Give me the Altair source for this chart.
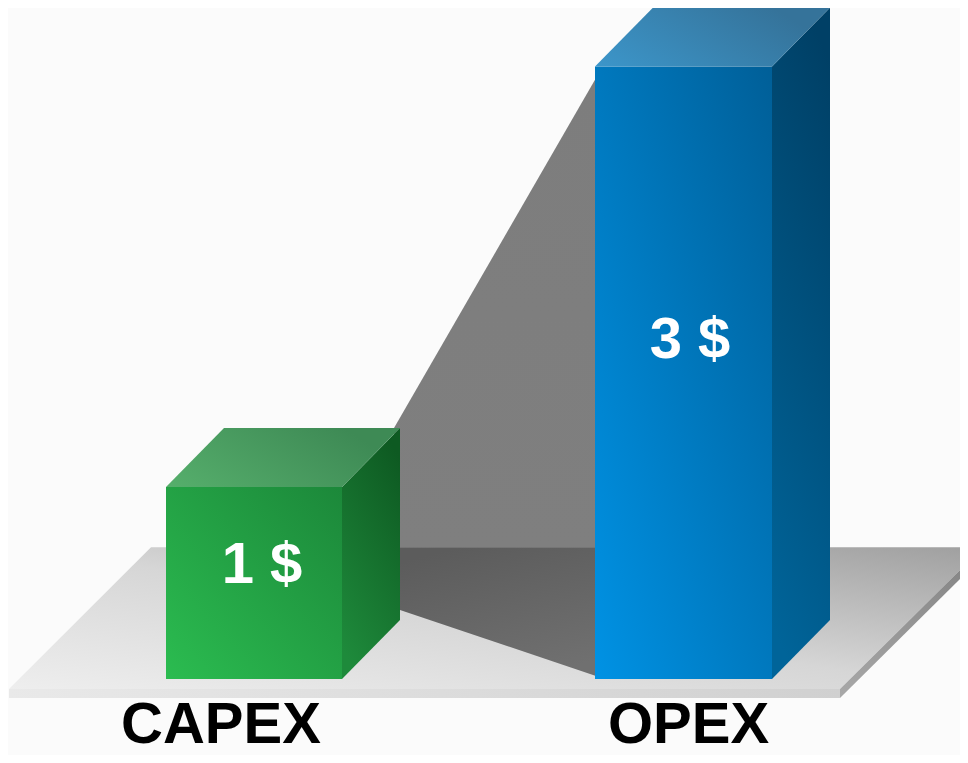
import altair as alt
import pandas as pd

categories = ["CAPEX", "OPEX"]
value_labels = ["1 $", "3 $"]
bar_heights = [1.0, 3.19]
bar_left = [166, 595]
bar_width = [176, 177]
depth_x = 58
depth_y = 0.307

floor_x = [9, 151, 840, 968]
floor_top = [-0.052, 0.686, 0.686, 0.686]
floor_bot = [-0.052, -0.052, -0.052, 0.609]
band_x = [9, 840]
band_top = [-0.052, -0.052]
band_bot = [-0.099, -0.099]
edge_x = [840, 968]
edge_top = [-0.052, 0.609]
edge_bot = [-0.099, 0.5625]
wall_shadow_x = [394, 596]
wall_shadow_top = [1.307, 3.13]
wall_shadow_bot = [0.686, 0.686]
floor_shadow_x = [400, 596]
floor_shadow_top = [0.686, 0.686]
floor_shadow_bot = [0.359, 0.016]

label_x = [221, 688.5]
label_y = [-0.333, -0.333]
value_x = [262, 690]
value_y = [0.5, 1.672]

X_SCALE = alt.Scale(domain=[8, 960], nice=False, zero=False)
Y_SCALE = alt.Scale(domain=[-0.3958, 3.495], nice=False, zero=False)


def grad(colors, x1=0, y1=1, x2=1, y2=0):
    n = len(colors) - 1
    return alt.Gradient(
        gradient="linear", x1=x1, y1=y1, x2=x2, y2=y2,
        stops=[alt.GradientStop(color=c, offset=i / n) for i, c in enumerate(colors)],
    )


def face(xs, top, bot, fill):
    df = pd.DataFrame({"x": xs, "top": top, "bot": bot})
    return alt.Chart(df).mark_area(color=fill, interpolate="linear", clip=True).encode(
        x=alt.X("x:Q", scale=X_SCALE, axis=None),
        y=alt.Y("top:Q", scale=Y_SCALE, axis=None),
        y2="bot:Q",
    )


def bar(i, front, side, top):
    l, w, h = bar_left[i], bar_width[i], bar_heights[i]
    r = l + w
    return [
        face([l, r], [h, h], [0, 0], front),
        face([r, r + depth_x], [h, h + depth_y], [0, depth_y], side),
        face([l, l + depth_x, r, r + depth_x],
             [h, h + depth_y, h + depth_y, h + depth_y],
             [h, h, h, h + depth_y], top),
    ]


layers = [
    face(floor_x, floor_top, floor_bot, grad(["#eeeeee", "#d6d6d6", "#a0a0a0"])),
    face(band_x, band_top, band_bot, grad(["#e9e9e9", "#d0d0d0"], 0, 0, 1, 0)),
    face(edge_x, edge_top, edge_bot, grad(["#a8a8a8", "#858585"])),
    face(wall_shadow_x, wall_shadow_top, wall_shadow_bot, grad(["#7f7f7f", "#7d7d7d"], 0, 1, 0, 0)),
    face(floor_shadow_x, floor_shadow_top, floor_shadow_bot, grad(["#5c5c5c", "#707070"], 0.3, 0, 0.7, 1)),
]
layers += bar(0, grad(["#2bbc50", "#1c883a"]), grad(["#1e8a3b", "#0e5a22"], 0.3, 1, 0.7, 0),
              grad(["#56af6c", "#3e8a55"], 0, 1, 1, 0.6))
layers += bar(1, grad(["#0092e4", "#005f98"]), grad(["#006499", "#004066"], 0.4, 1, 0.6, 0),
              grad(["#3c96ca", "#35739a"], 0, 1, 1, 0.6))

labels = pd.DataFrame({"t": categories, "x": label_x, "y": label_y})
values = pd.DataFrame({"t": value_labels, "x": value_x, "y": value_y})
for df, color in ((labels, "#000000"), (values, "#ffffff")):
    layers.append(
        alt.Chart(df).mark_text(
            font="Liberation Sans", fontWeight="bold", fontSize=58,
            align="center", baseline="alphabetic", color=color,
        ).encode(
            x=alt.X("x:Q", scale=X_SCALE, axis=None),
            y=alt.Y("y:Q", scale=Y_SCALE, axis=None),
            text="t:N",
        )
    )

chart = (
    alt.layer(*layers)
    .properties(width=952, height=747, padding=0, background="#fbfbfb",
                autosize=alt.AutoSizeParams(type="none"))
    .configure_view(stroke=None)
)
chart.save("out.html", embed_options={"renderer": "svg", "actions": False})
